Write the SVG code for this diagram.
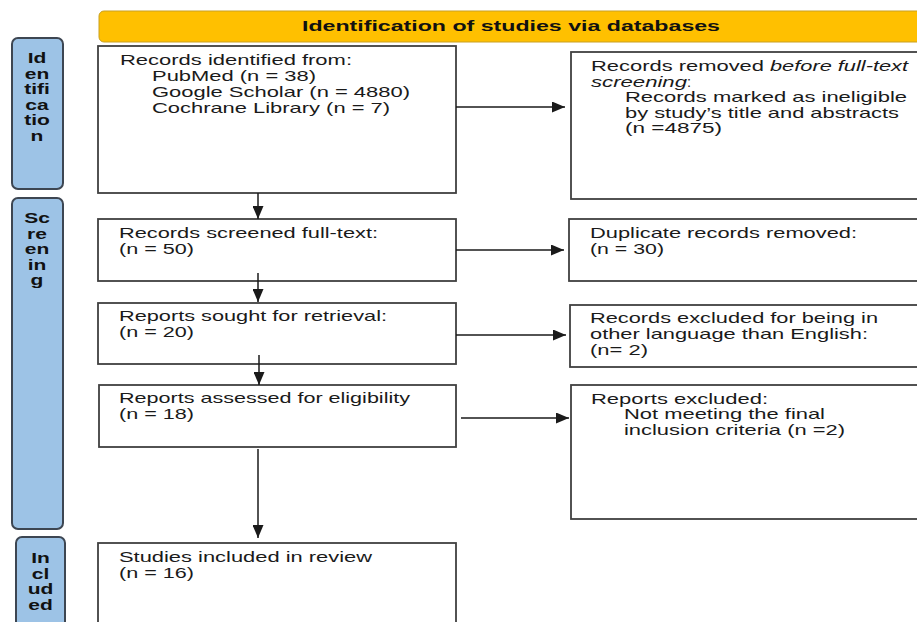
<svg xmlns="http://www.w3.org/2000/svg" width="917" height="622" viewBox="0 0 917 622">
<style>
.box{fill:#fff;stroke:#404040;stroke-width:1.8}
.side{fill:#9DC3E6;stroke:#3d4652;stroke-width:2}
.t{font-family:"Liberation Sans",Arial,sans-serif;font-size:14.5px;fill:#1a1a1a}
.i{font-style:italic}
.s{font-family:"Liberation Sans",Arial,sans-serif;font-size:14px;font-weight:bold;fill:#111;text-anchor:middle}
.ban{font-family:"Liberation Sans",Arial,sans-serif;font-size:15px;font-weight:bold;fill:#111}
.c{stroke:#1a1a1a;stroke-width:1.5;fill:none;marker-end:url(#ah)}
</style>
<defs>
<marker id="ah" markerUnits="userSpaceOnUse" markerWidth="13" markerHeight="11" refX="13" refY="5.5" orient="auto">
<path d="M0,0 L13,5.5 L0,11 z" fill="#1a1a1a"/>
</marker>
</defs>
<rect width="917" height="622" fill="#fff"/>

<g id="banner">
<rect x="99" y="11" width="830" height="31" rx="5" fill="#FFC000" stroke="#c9a020" stroke-width="1"/>
<text class="ban" x="302" y="31" textLength="418" lengthAdjust="spacingAndGlyphs">Identification of studies via databases</text>
</g>

<g id="side-identification">
<rect class="side" x="12" y="38" width="51" height="151" rx="6"/>
<g transform="translate(37 0) scale(1.5 1)">
<text class="s" x="0" y="63">Id</text>
<text class="s" x="0" y="78.6">en</text>
<text class="s" x="0" y="94.2">tifi</text>
<text class="s" x="0" y="109.8">ca</text>
<text class="s" x="0" y="125.4">tio</text>
<text class="s" x="0" y="141">n</text>
</g>
</g>

<g id="side-screening">
<rect class="side" x="12" y="198" width="51" height="331" rx="6"/>
<g transform="translate(37 0) scale(1.5 1)">
<text class="s" x="0" y="223">Sc</text>
<text class="s" x="0" y="238.6">re</text>
<text class="s" x="0" y="254.2">en</text>
<text class="s" x="0" y="269.8">in</text>
<text class="s" x="0" y="285.4">g</text>
</g>
</g>

<g id="side-included">
<rect class="side" x="16" y="537" width="49" height="110" rx="6"/>
<g transform="translate(40.5 0) scale(1.5 1)">
<text class="s" x="0" y="563">In</text>
<text class="s" x="0" y="578.6">cl</text>
<text class="s" x="0" y="594.2">ud</text>
<text class="s" x="0" y="609.8">ed</text>
</g>
</g>

<g id="records-identified">
<rect class="box" x="98" y="46" width="358" height="147"/>
<text class="t" x="120" y="65" textLength="232" lengthAdjust="spacingAndGlyphs">Records identified from:</text>
<text class="t" x="152" y="81" textLength="164" lengthAdjust="spacingAndGlyphs">PubMed (n = 38)</text>
<text class="t" x="152" y="97" textLength="258" lengthAdjust="spacingAndGlyphs">Google Scholar (n = 4880)</text>
<text class="t" x="152" y="113" textLength="238" lengthAdjust="spacingAndGlyphs">Cochrane Library (n = 7)</text>
</g>

<g id="records-removed">
<rect class="box" x="571" y="52" width="360" height="147"/>
<text class="t" x="591" y="71" textLength="173" lengthAdjust="spacingAndGlyphs">Records removed</text>
<text class="t i" x="770" y="71" textLength="138" lengthAdjust="spacingAndGlyphs">before full-text</text>
<text class="t i" x="591" y="87" textLength="96" lengthAdjust="spacingAndGlyphs">screening</text>
<text class="t" x="687" y="87">:</text>
<text class="t" x="625" y="102" textLength="282" lengthAdjust="spacingAndGlyphs">Records marked as ineligible</text>
<text class="t" x="625" y="118" textLength="274" lengthAdjust="spacingAndGlyphs">by study’s title and abstracts</text>
<text class="t" x="625" y="133" textLength="97" lengthAdjust="spacingAndGlyphs">(n =4875)</text>
</g>

<g id="records-screened">
<rect class="box" x="98" y="219" width="358" height="62"/>
<text class="t" x="119" y="238" textLength="259" lengthAdjust="spacingAndGlyphs">Records screened full-text:</text>
<text class="t" x="119" y="254" textLength="75" lengthAdjust="spacingAndGlyphs">(n = 50)</text>
</g>

<g id="duplicates-removed">
<rect class="box" x="569" y="219" width="362" height="62"/>
<text class="t" x="590" y="238" textLength="267" lengthAdjust="spacingAndGlyphs">Duplicate records removed:</text>
<text class="t" x="590" y="254" textLength="74" lengthAdjust="spacingAndGlyphs">(n = 30)</text>
</g>

<g id="reports-sought">
<rect class="box" x="98" y="303" width="358" height="61"/>
<text class="t" x="119" y="321" textLength="268" lengthAdjust="spacingAndGlyphs">Reports sought for retrieval:</text>
<text class="t" x="119" y="337" textLength="75" lengthAdjust="spacingAndGlyphs">(n = 20)</text>
</g>

<g id="language-excluded">
<rect class="box" x="570" y="305" width="361" height="62"/>
<text class="t" x="590" y="323" textLength="288" lengthAdjust="spacingAndGlyphs">Records excluded for being in</text>
<text class="t" x="590" y="339" textLength="278" lengthAdjust="spacingAndGlyphs">other language than English:</text>
<text class="t" x="590" y="355" textLength="58" lengthAdjust="spacingAndGlyphs">(n= 2)</text>
</g>

<g id="reports-assessed">
<rect class="box" x="99" y="385" width="357" height="62"/>
<text class="t" x="119" y="403" textLength="291" lengthAdjust="spacingAndGlyphs">Reports assessed for eligibility</text>
<text class="t" x="119" y="419" textLength="75" lengthAdjust="spacingAndGlyphs">(n = 18)</text>
</g>

<g id="reports-excluded">
<rect class="box" x="571" y="385" width="360" height="134"/>
<text class="t" x="591" y="404" textLength="177" lengthAdjust="spacingAndGlyphs">Reports excluded:</text>
<text class="t" x="624" y="419" textLength="201" lengthAdjust="spacingAndGlyphs">Not meeting the final</text>
<text class="t" x="624" y="435" textLength="221" lengthAdjust="spacingAndGlyphs">inclusion criteria (n =2)</text>
</g>

<g id="studies-included">
<rect class="box" x="98" y="543" width="358" height="100"/>
<text class="t" x="119" y="562" textLength="253" lengthAdjust="spacingAndGlyphs">Studies included in review</text>
<text class="t" x="119" y="578" textLength="75" lengthAdjust="spacingAndGlyphs">(n = 16)</text>
</g>

<g id="connectors">
<path class="c" d="M258 193 V219"/>
<path class="c" d="M258 273 V302"/>
<path class="c" d="M259 355 V385"/>
<path class="c" d="M258 449 V538"/>
<path class="c" d="M456 107 H565"/>
<path class="c" d="M456 250 H564"/>
<path class="c" d="M456 335 H566"/>
<path class="c" d="M461 418 H569"/>
</g>
</svg>
